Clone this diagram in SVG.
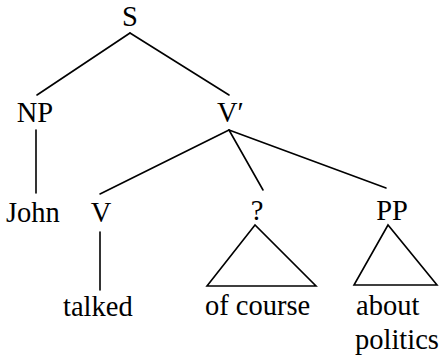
<svg xmlns="http://www.w3.org/2000/svg" width="439" height="356" viewBox="0 0 439 356">
<style>
text{font-family:'Liberation Serif','Times New Roman',serif;font-size:28.5px;fill:#000}
.m{text-anchor:middle}
line,polygon{stroke:#000;stroke-width:1.6;fill:none;stroke-linecap:round;stroke-linejoin:miter}
</style>
<rect width="439" height="356" fill="#fff"/>
<g id="connectors">
<line x1="130" y1="33" x2="37" y2="95"/>
<line x1="130" y1="33" x2="229" y2="95"/>
<line x1="36" y1="130" x2="36" y2="193"/>
<line x1="229" y1="130" x2="100" y2="194"/>
<line x1="229" y1="130" x2="263" y2="190"/>
<line x1="229" y1="130" x2="386" y2="188"/>
<line x1="100" y1="232" x2="100" y2="290"/>
</g>
<g id="n-S"><text class="m" x="130" y="26">S</text></g>
<g id="n-NP"><text class="m" x="35" y="122">NP</text></g>
<g id="n-Vbar"><text x="217" y="122">V′</text></g>
<g id="n-John"><text x="6" y="222">John</text></g>
<g id="n-V"><text class="m" x="101" y="222">V</text></g>
<g id="n-q"><text class="m" x="257" y="220">?</text></g>
<g id="n-PP"><text class="m" x="392" y="220">PP</text></g>
<g id="n-talked"><text x="63" y="316">talked</text></g>
<g id="n-ofcourse"><polygon points="255,225 207,286 316,286"/><text x="205" y="315">of course</text></g>
<g id="n-aboutpolitics"><polygon points="388,225 354,285 437,285"/><text x="356" y="315">about</text><text x="355" y="349">politics</text></g>
</svg>
